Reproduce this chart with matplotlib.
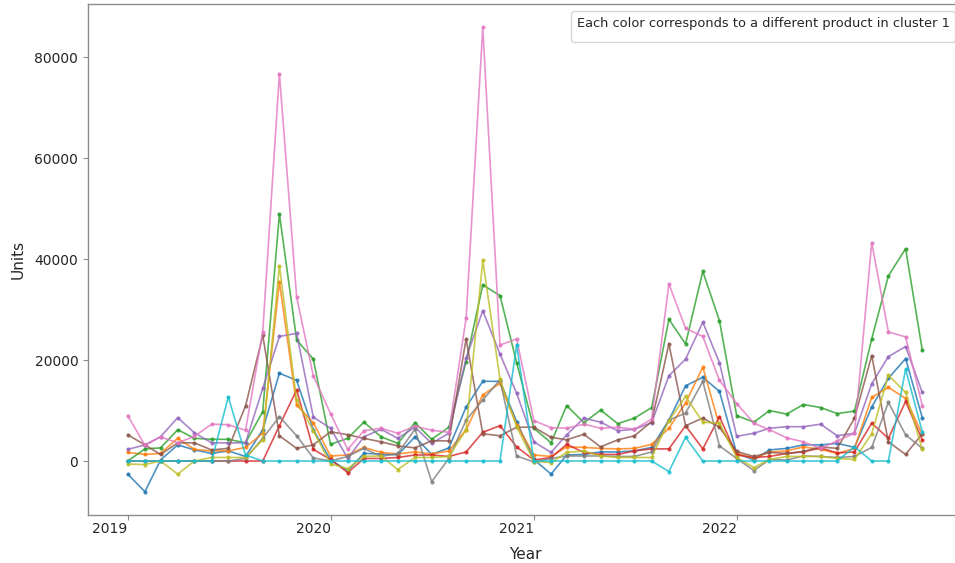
import numpy as np
import pandas as pd
import matplotlib
matplotlib.use("Agg")
import matplotlib.pyplot as plt
import matplotlib.dates as mdates

months = pd.date_range("2019-01-01", "2022-12-01", freq="MS")
year_ticks = ["2019-01-01", "2020-01-01", "2021-01-01", "2022-01-01"]

blue = [-2600, -6100, 200, 3200, 2200, 1500, 2000, 900, 6200, 17400, 16000, 6200,
        200, -1900, 1500, 1400, 1200, 4800, 1300, 2600, 10700, 15800, 15800, 7800,
        300, -2600, 1200, 1300, 1800, 1800, 2000, 2700, 8100, 14900, 16600, 13800,
        1500, 200, 2200, 2500, 3200, 3200, 3500, 2700, 10700, 16400, 20300, 8600]
orange = [1700, 1300, 1500, 4500, 2300, 2000, 2000, 2700, 5500, 35500, 11100, 7600,
          1000, 1200, 2700, 1700, 1400, 1800, 1400, 2000, 6200, 13100, 15400, 7200,
          1200, 900, 2800, 2700, 2500, 2400, 2500, 3300, 6500, 11500, 18600, 7000,
          1500, 500, 1800, 2000, 2800, 2300, 1500, 2500, 12600, 14600, 12400, 5300]
green = [0, 2400, 2600, 6200, 4500, 4300, 4300, 3600, 9800, 49000, 24000, 20200,
         3300, 4500, 7700, 4800, 3500, 7600, 4300, 6700, 19700, 34900, 32800, 19500,
         6500, 3600, 11000, 7600, 10100, 7400, 8500, 10600, 28100, 23200, 37600, 27800,
         9000, 7700, 10000, 9300, 11200, 10600, 9400, 9900, 24200, 36700, 42100, 22000]
red = [0, 0, 0, 0, 0, 0, 0, 0, 0, 7000, 14100, 2300,
       300, -2300, 500, 500, 700, 1200, 1200, 900, 1800, 5700, 7000, 2800,
       200, 700, 3300, 1700, 1300, 1300, 2000, 2400, 2400, 7000, 2400, 8800,
       1200, 700, 900, 1500, 1800, 2600, 1600, 1800, 7500, 4500, 11800, 4200]
purple = [2300, 3200, 4800, 8600, 5600, 3600, 3600, 3600, 14400, 24700, 25300, 8700,
          6500, 500, 4800, 6300, 4500, 6700, 3500, 5500, 20400, 29800, 21200, 13400,
          3800, 1700, 5200, 8500, 7700, 6000, 6300, 7600, 16900, 20200, 27500, 19500,
          4900, 5500, 6500, 6800, 6800, 7300, 5000, 5500, 15300, 20700, 22700, 13600]
brown = [5200, 3200, 1300, 3600, 3600, 2200, 2500, 10900, 24900, 5000, 2500, 3200,
         5800, 5200, 4500, 3800, 3000, 2600, 4000, 4000, 24200, 5400, 5000, 6700,
         6700, 4700, 4200, 5300, 2800, 4200, 5000, 7800, 23200, 7000, 8500, 6700,
         1900, 900, 1700, 1500, 1900, 2800, 2500, 8500, 20900, 3800, 1300, 5400]
pink = [9000, 3100, 4800, 3600, 4900, 7300, 7200, 6100, 25600, 76800, 32500, 16900,
        9400, 2300, 6000, 6500, 5500, 6900, 6100, 5700, 28300, 86000, 23000, 24200,
        8000, 6600, 6500, 7300, 6500, 6700, 6300, 8300, 35100, 26300, 24700, 16000,
        11400, 7500, 6200, 4600, 3800, 2500, 4000, 5500, 43300, 25600, 24600, 11000]
gray = [0, 0, 0, 0, 0, 0, 0, 500, 4500, 8800, 5000, 600,
        0, 900, 2500, 900, 1500, 6300, -4100, 500, 8100, 12100, 16100, 1000,
        -200, 500, 1000, 1000, 1000, 900, 900, 1800, 8100, 9500, 15800, 3000,
        500, -1900, 300, 200, 1000, 900, 700, 900, 2700, 11600, 5200, 2500]
olive = [-600, -700, 0, -2600, 0, 700, 700, 700, 4200, 38700, 12000, 6000,
         -600, -1500, 900, 1000, -1700, 700, 700, 900, 6200, 39800, 16200, 6800,
         -100, -300, 1700, 2000, 1000, 700, 700, 700, 8000, 12800, 7700, 7500,
         700, -1300, 300, 900, 900, 900, 500, 300, 5400, 17000, 13600, 2300]
cyan = [0, 0, 0, 0, 0, 0, 12700, 1200, 0, 0, 0, 0,
        0, 0, 0, 0, 0, 0, 0, 0, 0, 0, 0, 23000,
        0, 0, 0, 0, 0, 0, 0, 0, -2100, 4700, 0, 0,
        0, 0, 0, 0, 0, 0, 0, 2800, 0, 0, 18200, 5800]

series = [blue, orange, green, red, purple, brown, pink, gray, olive, cyan]
colors = ["#1f77b4", "#ff7f0e", "#2ca02c", "#d62728", "#9467bd",
          "#8c564b", "#e377c2", "#7f7f7f", "#bcbd22", "#17becf"]

legend_title = "Each color corresponds to a different product in cluster 1"

TEXT = "#262626"
W, H, DPI = 955, 563, 100
fig = plt.figure(figsize=(W / DPI, H / DPI), dpi=DPI)
AX_L, AX_R_NOMINAL, AX_R = 88, 962, 1000
ax = fig.add_axes([AX_L / W, 48 / H, (AX_R - AX_L) / W, (515 - 4) / H])

for vals, c in zip(series, colors):
    ax.plot(months, vals, color=c, lw=1.2, alpha=0.8, marker="o", ms=2)

# keep the auto-scaled x mapping of a nominal axes width, extend the frame past the edge
x0, x1 = ax.get_xlim()
per_px = (x1 - x0) / (AX_R_NOMINAL - AX_L)
ax.set_xlim(x0, x0 + per_px * (AX_R - AX_L))

ax.set_xticks(pd.to_datetime(year_ticks))
ax.xaxis.set_major_formatter(mdates.DateFormatter("%Y"))
for lab in ax.get_xticklabels():
    lab.set_ha("right")

for s in ax.spines.values():
    s.set_color("#8c8c8c")
    s.set_linewidth(1.0)
ax.spines["right"].set_visible(False)
ax.tick_params(colors="#8c8c8c", labelcolor=TEXT, labelsize=10, length=3.5)
ax.tick_params(axis="x", pad=1.5)

ax.set_xlabel("Year", fontsize=11, color=TEXT)
ax.xaxis.set_label_coords((525 - AX_L) / (AX_R - AX_L), -0.062)
ax.set_ylabel("Units", fontsize=11, color=TEXT, labelpad=6)

leg = ax.legend(handles=[], labels=[], title=legend_title, loc="upper right",
                bbox_to_anchor=((962 - AX_L) / (AX_R - AX_L), 1.0),
                title_fontsize=9.4, framealpha=0.8)
leg.get_title().set_color(TEXT)

fig.savefig("out.png", dpi=DPI)
